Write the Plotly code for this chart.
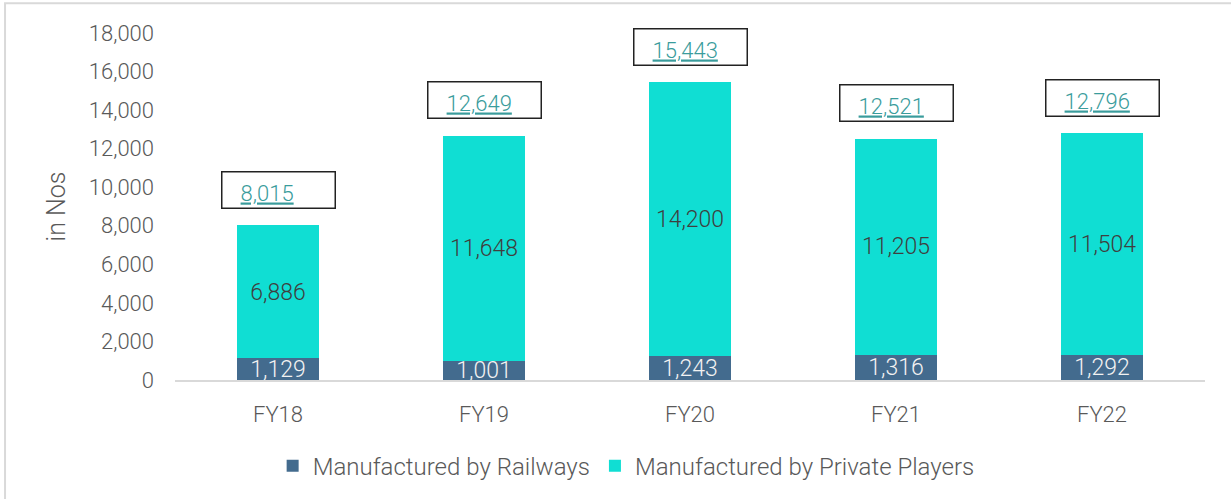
import plotly.graph_objects as go

categories = ["FY18", "FY19", "FY20", "FY21", "FY22"]
railways = [1129, 1001, 1243, 1316, 1292]
private = [6886, 11648, 14200, 11205, 11504]
totals = [8015, 12649, 15443, 12521, 12796]

C_RAIL = "#436B8E"
C_PRIV = "#10DED3"
FONT = "Roboto"
GRAY = "#595959"

fig = go.Figure()
fig.add_trace(go.Bar(
    x=categories, y=railways, name="Manufactured by Railways",
    marker=dict(color=C_RAIL, line=dict(width=0)),
    text=[f"{v:,}" for v in railways], textposition="inside",
    insidetextanchor="middle", constraintext="none",
    textfont=dict(family=FONT, size=23, color="#F2F2F2", weight=300),
))
fig.add_trace(go.Bar(
    x=categories, y=private, name="Manufactured by Private Players",
    marker=dict(color=C_PRIV, line=dict(width=0)),
    text=[f"{v:,}" for v in private], textposition="inside",
    insidetextanchor="middle", constraintext="none",
    textfont=dict(family=FONT, size=24, color="#3F3F3F", weight=300),
))

# total labels in boxes
for i, t in enumerate(totals):
    fig.add_annotation(x=i, y=t + 1850, xref="x", yref="y",
                       text="&nbsp;&nbsp;&nbsp;" + f"<u>{t:,}</u>", showarrow=False,
                       xanchor="center", yanchor="middle",
                       align="left", valign="bottom", width=108, height=31,
                       bordercolor="#222222", borderwidth=1.5, borderpad=2,
                       font=dict(family=FONT, size=22, color="#3A9C9C", weight=300))

# outer border
fig.add_shape(type="rect", xref="paper", yref="paper",
              x0=-0.165, x1=1.2, y0=-0.6, y1=1.086,
              line=dict(color="#D9D9D9", width=2), fillcolor="rgba(0,0,0,0)", layer="below")

fig.update_layout(
    barmode="stack", bargap=0.6,
    width=1231, height=499,
    margin=dict(l=175, r=26, t=33, b=118),
    paper_bgcolor="white", plot_bgcolor="white",
    font=dict(family=FONT, color=GRAY),
    uniformtext=dict(minsize=23, mode="show"),
    showlegend=True,
    legend=dict(orientation="h", x=0.438, xanchor="center", y=-0.245, yanchor="middle",
                font=dict(family=FONT, size=24, color=GRAY, weight=300),
                itemwidth=30, traceorder="normal"),
    xaxis=dict(showline=True, linecolor="#D9D9D9", linewidth=2, ticks="",
               tickfont=dict(family=FONT, size=22, color=GRAY, weight=300),
               ticklabelstandoff=14),
    yaxis=dict(range=[0, 18000], dtick=2000, tickformat=",", showgrid=False,
               zeroline=False, showline=False,
               tickfont=dict(family=FONT, size=22, color=GRAY, weight=300),
               ticklabelstandoff=20,
               title=dict(text="in Nos", standoff=16,
                          font=dict(family=FONT, size=25, color=GRAY, weight=300))),
)

fig.write_html("out.html", config={"displayModeBar": False},
               post_script="document.body.style.margin='0';")
